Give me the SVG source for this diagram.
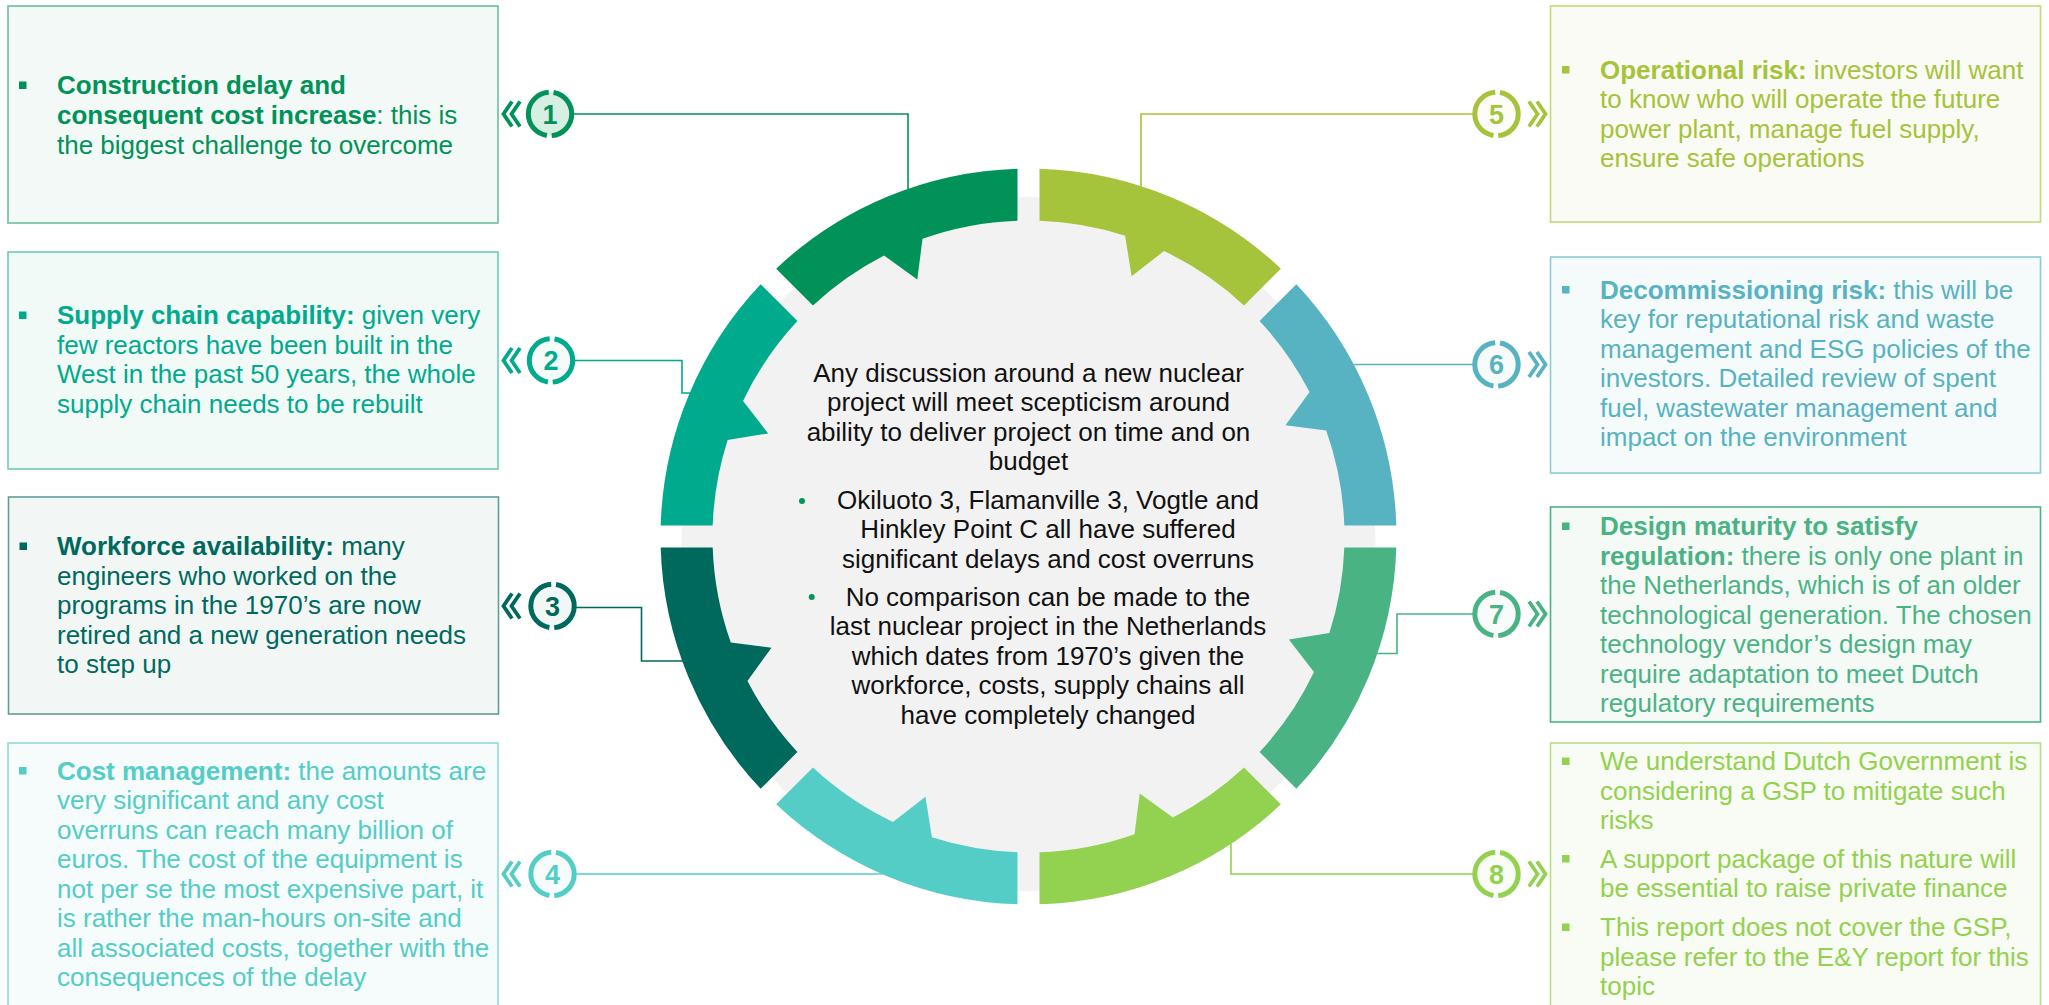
<svg xmlns="http://www.w3.org/2000/svg" width="2049" height="1005" viewBox="0 0 2049 1005">
<style>
  text { font-family: "Liberation Sans", Arial, sans-serif; font-size: 26px; }
  .b { font-weight: bold; }
  .num { font-size: 27px; font-weight: bold; text-anchor: middle; }
  .ctr { fill: #111111; text-anchor: middle; }
  .box { stroke-width: 1.6; }
  .ring { stroke-width: 5; stroke-dasharray: 63.17 5; stroke-dashoffset: 99.27; }
  .chev { fill: none; stroke-width: 3.8; stroke-linejoin: miter; }
  .conn { fill: none; stroke-width: 1.6; }
</style>
<defs>
  <path id="seg" d="M 11,-367.83 A 368 368 0 0 1 252.32,-267.87 L 215.53,-231.09 A 316 316 0 0 0 135.55,-285.46 L 103.07,-260.34 L 96.60,-300.87 A 316 316 0 0 0 11,-315.81 Z"/>
  <path id="chevL" d="M12,-12.5 L3.5,0 L12,12.5 M20,-12.5 L11.5,0 L20,12.5"/>
</defs>
<rect width="2049" height="1005" fill="#ffffff"/>

<!-- central ring -->
<g id="ring">
  <circle cx="1028.5" cy="544" r="347" fill="#F2F2F2"/>
  <use href="#seg" transform="translate(1028.5 536.5) rotate(0)" fill="#A5C33B"/>
  <use href="#seg" transform="translate(1028.5 536.5) rotate(45)" fill="#57B3C1"/>
  <use href="#seg" transform="translate(1028.5 536.5) rotate(90)" fill="#4AB384"/>
  <use href="#seg" transform="translate(1028.5 536.5) rotate(135)" fill="#93D150"/>
  <use href="#seg" transform="translate(1028.5 536.5) rotate(180)" fill="#53CDC6"/>
  <use href="#seg" transform="translate(1028.5 536.5) rotate(225)" fill="#00695D"/>
  <use href="#seg" transform="translate(1028.5 536.5) rotate(270)" fill="#00AA8D"/>
  <use href="#seg" transform="translate(1028.5 536.5) rotate(315)" fill="#009258"/>
</g>

<g id="center-text">
  <text class="ctr" x="1028.5" y="381.7">Any discussion around a new nuclear</text>
  <text class="ctr" x="1028.5" y="411">project will meet scepticism around</text>
  <text class="ctr" x="1028.5" y="440.5">ability to deliver project on time and on</text>
  <text class="ctr" x="1028.5" y="470">budget</text>
  <circle cx="802" cy="501" r="3" fill="#00965A"/>
  <text class="ctr" x="1048" y="508.5">Okiluoto 3, Flamanville 3, Vogtle and</text>
  <text class="ctr" x="1048" y="538">Hinkley Point C all have suffered</text>
  <text class="ctr" x="1048" y="567.5">significant delays and cost overruns</text>
  <circle cx="811.7" cy="597" r="3" fill="#00965A"/>
  <text class="ctr" x="1048" y="605.5">No comparison can be made to the</text>
  <text class="ctr" x="1048" y="635">last nuclear project in the Netherlands</text>
  <text class="ctr" x="1048" y="664.5">which dates from 1970’s given the</text>
  <text class="ctr" x="1048" y="694">workforce, costs, supply chains all</text>
  <text class="ctr" x="1048" y="723.5">have completely changed</text>
</g>

<!-- connectors -->
<g id="connectors">
  <polyline class="conn" stroke="#009258" points="572,114 908,114 908,189"/>
  <polyline class="conn" stroke="#00AA8D" points="573,360.5 682,360.5 682,393 690.5,393"/>
  <polyline class="conn" stroke="#00695D" points="575,607.5 641.5,607.5 641.5,661 683,661"/>
  <polyline class="conn" stroke="#53CDC6" points="575,874 882.5,874"/>
  <polyline class="conn" stroke="#A5C33B" points="1141,187 1141,114 1474,114"/>
  <polyline class="conn" stroke="#57B3C1" points="1353.5,364.5 1474,364.5"/>
  <polyline class="conn" stroke="#4AB384" points="1377,653.5 1397,653.5 1397,614 1474,614"/>
  <polyline class="conn" stroke="#93D150" points="1231,843.5 1231,874 1474,874"/>
</g>

<!-- node 1 -->
<g id="node-1">
  <rect class="box" x="8" y="6" width="490" height="217" fill="#F3F9F6" stroke="#6CC09B"/>
  <rect x="19" y="81.5" width="7.5" height="7.5" fill="#009258"/>
  <text x="57" y="94" fill="#009258"><tspan class="b">Construction delay and</tspan></text>
  <text x="57" y="124" fill="#009258"><tspan class="b">consequent cost increase</tspan>: this is</text>
  <text x="57" y="153.5" fill="#009258">the biggest challenge to overcome</text>
  <use href="#chevL" class="chev" stroke="#009258" transform="translate(500 114)"/>
  <circle class="ring" cx="550" cy="114" r="21.7" fill="#D7EEE3" stroke="#009258"/>
  <text class="num" x="550" y="123.7" fill="#009258">1</text>
</g>

<!-- node 2 -->
<g id="node-2">
  <rect class="box" x="8" y="252" width="490" height="217" fill="#F2FAF8" stroke="#6CCCB8"/>
  <rect x="19" y="311.5" width="7.5" height="7.5" fill="#00AA8D"/>
  <text x="57" y="324" fill="#00AA8D"><tspan class="b">Supply chain capability:</tspan> given very</text>
  <text x="57" y="353.5" fill="#00AA8D">few reactors have been built in the</text>
  <text x="57" y="383" fill="#00AA8D">West in the past 50 years, the whole</text>
  <text x="57" y="412.5" fill="#00AA8D">supply chain needs to be rebuilt</text>
  <use href="#chevL" class="chev" stroke="#00AA8D" transform="translate(500 360.5)"/>
  <circle class="ring" cx="551" cy="360.5" r="21.7" fill="#F4FBF9" stroke="#00AA8D"/>
  <text class="num" x="551" y="370.2" fill="#00AA8D">2</text>
</g>

<!-- node 3 -->
<g id="node-3">
  <rect class="box" x="8.5" y="497" width="490" height="217" fill="#F2F7F6" stroke="#5E9E96"/>
  <rect x="19.5" y="542.5" width="7.5" height="7.5" fill="#00695D"/>
  <text x="57" y="555" fill="#00695D"><tspan class="b">Workforce availability:</tspan> many</text>
  <text x="57" y="584.5" fill="#00695D">engineers who worked on the</text>
  <text x="57" y="614" fill="#00695D">programs in the 1970’s are now</text>
  <text x="57" y="643.5" fill="#00695D">retired and a new generation needs</text>
  <text x="57" y="673" fill="#00695D">to step up</text>
  <use href="#chevL" class="chev" stroke="#00695D" transform="translate(500 606)"/>
  <circle class="ring" cx="552.5" cy="606" r="21.7" fill="#F2F7F6" stroke="#00695D"/>
  <text class="num" x="552.5" y="615.7" fill="#00695D">3</text>
</g>

<!-- node 4 -->
<g id="node-4">
  <rect class="box" x="8" y="743" width="490" height="272" fill="#F5FCFB" stroke="#8FDCD7"/>
  <rect x="19" y="767" width="7.5" height="7.5" fill="#53CDC6"/>
  <text x="57" y="779.5" fill="#53CDC6"><tspan class="b">Cost management:</tspan> the amounts are</text>
  <text x="57" y="809" fill="#53CDC6">very significant and any cost</text>
  <text x="57" y="838.5" fill="#53CDC6">overruns can reach many billion of</text>
  <text x="57" y="868" fill="#53CDC6">euros. The cost of the equipment is</text>
  <text x="57" y="897.5" fill="#53CDC6">not per se the most expensive part, it</text>
  <text x="57" y="927" fill="#53CDC6">is rather the man-hours on-site and</text>
  <text x="57" y="956.5" fill="#53CDC6">all associated costs, together with the</text>
  <text x="57" y="986" fill="#53CDC6">consequences of the delay</text>
  <use href="#chevL" class="chev" stroke="#53CDC6" transform="translate(500 874)"/>
  <circle class="ring" cx="552.5" cy="874" r="21.7" fill="#F6FCFC" stroke="#53CDC6"/>
  <text class="num" x="552.5" y="883.7" fill="#53CDC6">4</text>
</g>

<!-- node 5 -->
<g id="node-5">
  <rect class="box" x="1550.5" y="6" width="490" height="216" fill="#FAFBF4" stroke="#C2D97A"/>
  <rect x="1562" y="66" width="7.5" height="7.5" fill="#A5C33B"/>
  <text x="1600" y="78.5" fill="#A5C33B"><tspan class="b">Operational risk:</tspan> investors will want</text>
  <text x="1600" y="108" fill="#A5C33B">to know who will operate the future</text>
  <text x="1600" y="137.5" fill="#A5C33B">power plant, manage fuel supply,</text>
  <text x="1600" y="167" fill="#A5C33B">ensure safe operations</text>
  <circle class="ring" cx="1496.5" cy="114" r="21.7" fill="#FCFDF8" stroke="#A5C33B"/>
  <text class="num" x="1496.5" y="123.7" fill="#A5C33B">5</text>
  <use href="#chevL" class="chev" stroke="#A5C33B" transform="translate(1549 114) scale(-1 1)"/>
</g>

<!-- node 6 -->
<g id="node-6">
  <rect class="box" x="1550.5" y="257" width="490" height="216" fill="#F5FAFB" stroke="#8CCBD5"/>
  <rect x="1562" y="286" width="7.5" height="7.5" fill="#57B3C1"/>
  <text x="1600" y="298.5" fill="#57B3C1"><tspan class="b">Decommissioning risk:</tspan> this will be</text>
  <text x="1600" y="328" fill="#57B3C1">key for reputational risk and waste</text>
  <text x="1600" y="357.5" fill="#57B3C1">management and ESG policies of the</text>
  <text x="1600" y="387" fill="#57B3C1">investors. Detailed review of spent</text>
  <text x="1600" y="416.5" fill="#57B3C1">fuel, wastewater management and</text>
  <text x="1600" y="446" fill="#57B3C1">impact on the environment</text>
  <circle class="ring" cx="1496.5" cy="364.5" r="21.7" fill="#F7FBFC" stroke="#57B3C1"/>
  <text class="num" x="1496.5" y="374.2" fill="#57B3C1">6</text>
  <use href="#chevL" class="chev" stroke="#57B3C1" transform="translate(1549 364.5) scale(-1 1)"/>
</g>

<!-- node 7 -->
<g id="node-7">
  <rect class="box" x="1550.5" y="507" width="490" height="215" fill="#F5FAF7" stroke="#4AB384"/>
  <rect x="1562" y="522.5" width="7.5" height="7.5" fill="#4AB384"/>
  <text x="1600" y="535" fill="#4AB384"><tspan class="b">Design maturity to satisfy</tspan></text>
  <text x="1600" y="564.5" fill="#4AB384"><tspan class="b">regulation:</tspan> there is only one plant in</text>
  <text x="1600" y="594" fill="#4AB384">the Netherlands, which is of an older</text>
  <text x="1600" y="623.5" fill="#4AB384">technological generation. The chosen</text>
  <text x="1600" y="653" fill="#4AB384">technology vendor’s design may</text>
  <text x="1600" y="682.5" fill="#4AB384">require adaptation to meet Dutch</text>
  <text x="1600" y="712" fill="#4AB384">regulatory requirements</text>
  <circle class="ring" cx="1496.5" cy="614" r="21.7" fill="#F7FBF9" stroke="#4AB384"/>
  <text class="num" x="1496.5" y="623.7" fill="#4AB384">7</text>
  <use href="#chevL" class="chev" stroke="#4AB384" transform="translate(1549 614) scale(-1 1)"/>
</g>

<!-- node 8 -->
<g id="node-8">
  <rect class="box" x="1550.5" y="743" width="490" height="272" fill="#F8FCF4" stroke="#B3DF89"/>
  <rect x="1562" y="757.5" width="7.5" height="7.5" fill="#93D150"/>
  <text x="1600" y="770" fill="#93D150">We understand Dutch Government is</text>
  <text x="1600" y="799.5" fill="#93D150">considering a GSP to mitigate such</text>
  <text x="1600" y="829" fill="#93D150">risks</text>
  <rect x="1562" y="855" width="7.5" height="7.5" fill="#93D150"/>
  <text x="1600" y="867.5" fill="#93D150">A support package of this nature will</text>
  <text x="1600" y="897" fill="#93D150">be essential to raise private finance</text>
  <rect x="1562" y="923.5" width="7.5" height="7.5" fill="#93D150"/>
  <text x="1600" y="936" fill="#93D150">This report does not cover the GSP,</text>
  <text x="1600" y="965.5" fill="#93D150">please refer to the E&amp;Y report for this</text>
  <text x="1600" y="995" fill="#93D150">topic</text>
  <circle class="ring" cx="1496.5" cy="874" r="21.7" fill="#F9FDF6" stroke="#93D150"/>
  <text class="num" x="1496.5" y="883.7" fill="#93D150">8</text>
  <use href="#chevL" class="chev" stroke="#93D150" transform="translate(1549 874) scale(-1 1)"/>
</g>
</svg>
